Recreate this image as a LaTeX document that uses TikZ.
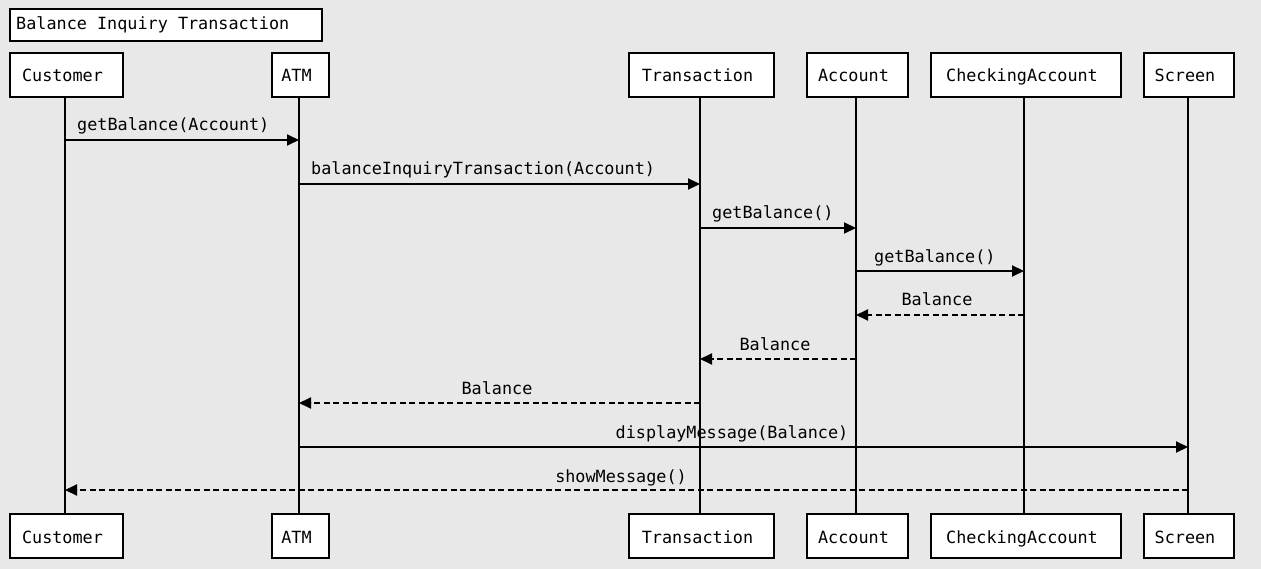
\documentclass[tikz,border=0pt]{standalone}
\usepackage{fontspec}
\setmonofont{DejaVu Sans Mono}
\usetikzlibrary{arrows.meta}
\definecolor{bg}{HTML}{E8E8E8}
\begin{document}
\begin{tikzpicture}[x=1pt,y=-1pt,
  font=\ttfamily\fontsize{16.8}{18}\selectfont,
  part/.style={draw=black,fill=white,line width=2pt,inner sep=0pt,minimum height=44pt,text height=14pt,text depth=0pt,anchor=north west,execute at end node={\hspace{8pt}}},
  life/.style={line width=2pt},
  msg/.style={line width=2pt,-{Triangle[length=12pt,width=11pt]}},
  ret/.style={msg,dash pattern=on 6pt off 3.5pt},
  lbl/.style={inner sep=0pt,anchor=base}
]
\fill[bg] (0,0) rectangle (1261,569);
\useasboundingbox (0,0) rectangle (1261,569);
% title
\node[draw=black,fill=white,line width=2pt,inner sep=0pt,minimum width=312pt,minimum height=32pt,anchor=north west] (title) at (9,8) {};
\node[inner sep=0pt,anchor=base west] (titletext) at (16,30) {Balance Inquiry Transaction};
% participants (top)
\node[part,minimum width=113pt] (cust) at (9,52) {Customer};
\node[part,minimum width=57pt] (atm) at (271,52) {ATM};
\node[part,minimum width=145pt] (trans) at (628,52) {Transaction};
\node[part,minimum width=101pt] (acc) at (806,52) {Account};
\node[part,minimum width=190pt] (chk) at (930,52) {CheckingAccount};
\node[part,minimum width=90pt] (scr) at (1143,52) {Screen};
% participants (bottom)
\node[part,minimum width=113pt] (cust2) at (9,513) {Customer};
\node[part,minimum width=57pt] (atm2) at (271,513) {ATM};
\node[part,minimum width=145pt] (trans2) at (628,513) {Transaction};
\node[part,minimum width=101pt] (acc2) at (806,513) {Account};
\node[part,minimum width=190pt] (chk2) at (930,513) {CheckingAccount};
\node[part,minimum width=90pt] (scr2) at (1143,513) {Screen};
% lifeline anchor coordinates
\coordinate (lc) at (65,0);
\coordinate (la) at (299,0);
\coordinate (lt) at (700,0);
\coordinate (lac) at (856,0);
\coordinate (lch) at (1024,0);
\coordinate (ls) at (1188,0);
% lifelines
\draw[life] (lc |- cust.south) -- (lc |- cust2.north);
\draw[life] (la |- atm.south) -- (la |- atm2.north);
\draw[life] (lt |- trans.south) -- (lt |- trans2.north);
\draw[life] (lac |- acc.south) -- (lac |- acc2.north);
\draw[life] (lch |- chk.south) -- (lch |- chk2.north);
\draw[life] (ls |- scr.south) -- (ls |- scr2.north);
% message levels
\coordinate (y1) at (0,140);
\coordinate (y2) at (0,184);
\coordinate (y3) at (0,228);
\coordinate (y4) at (0,271);
\coordinate (y5) at (0,315);
\coordinate (y6) at (0,359);
\coordinate (y7) at (0,403);
\coordinate (y8) at (0,447);
\coordinate (y9) at (0,490);
% messages
\draw[msg] (lc |- y1) -- (la |- y1);
\node[lbl,anchor=base west] (l1) at (77,131) {getBalance(Account)};
\draw[msg] (la |- y2) -- (lt |- y2);
\node[lbl,anchor=base west] (l2) at (311,175) {balanceInquiryTransaction(Account)};
\draw[msg] (lt |- y3) -- (lac |- y3);
\node[lbl,anchor=base west] (l3) at (712,219) {getBalance()};
\draw[msg] (lac |- y4) -- (lch |- y4);
\node[lbl,anchor=base west] (l4) at (874,263) {getBalance()};
\draw[ret] (lch |- y5) -- (lac |- y5);
\node[lbl] (l5) at (937,306) {Balance};
\draw[ret] (lac |- y6) -- (lt |- y6);
\node[lbl] (l6) at (775,350) {Balance};
\draw[ret] (lt |- y7) -- (la |- y7);
\node[lbl] (l7) at (497,394) {Balance};
\draw[msg] (la |- y8) -- (ls |- y8);
\node[lbl] (l8) at (732,438) {displayMessage(Balance)};
\draw[ret] (ls |- y9) -- (lc |- y9);
\node[lbl] (l9) at (621,482) {showMessage()};
\end{tikzpicture}
\end{document}
